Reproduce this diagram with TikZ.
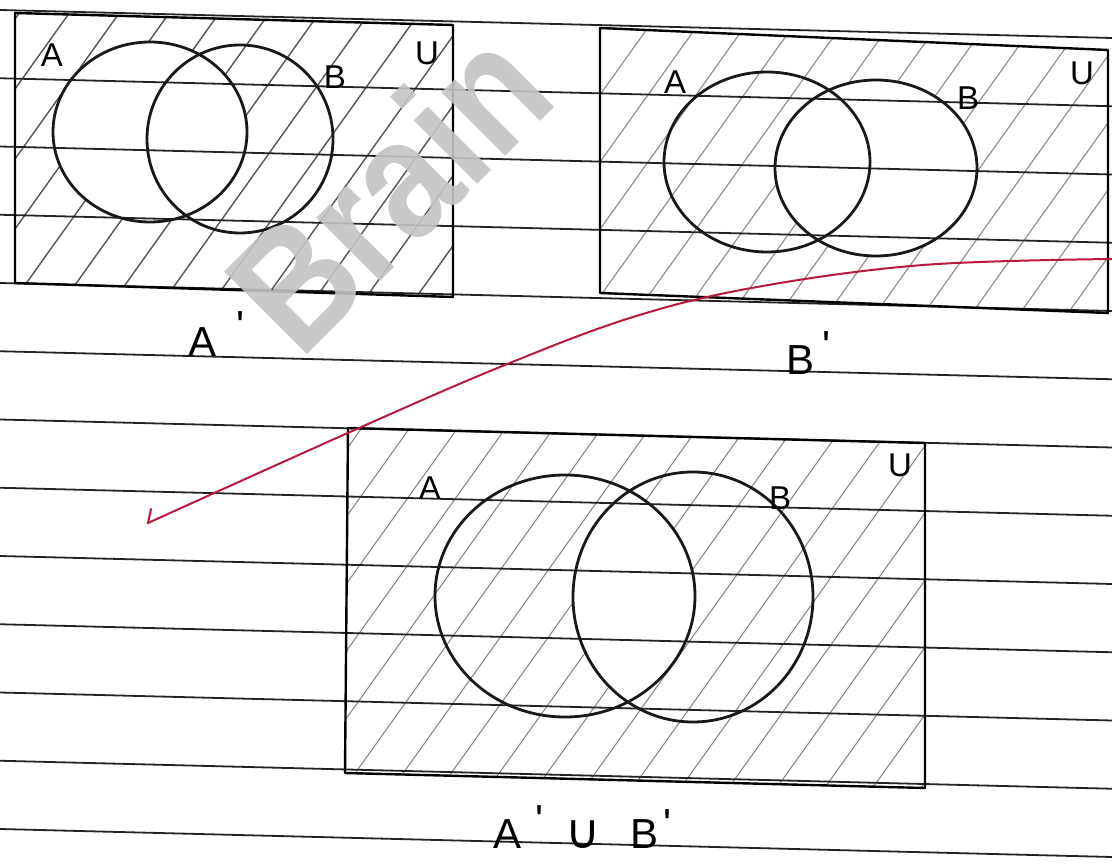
\documentclass[tikz,border=0pt]{standalone}
\usepackage{fontspec}
\setmainfont{Liberation Sans}
\newfontfamily\dejavu{DejaVu Sans}
\definecolor{redink}{RGB}{185,25,60}
\definecolor{hatchdark}{RGB}{95,82,88}
\definecolor{hatchlight}{RGB}{150,132,140}
\definecolor{paperline}{RGB}{35,35,35}
\definecolor{wmgray}{RGB}{196,196,196}
\tikzset{
  hatchone/.style={draw=hatchdark, line width=1.4pt},
  hatchtwo/.style={draw=hatchlight, line width=1.1pt},
  ruled/.style={draw=paperline, line width=1.8pt},
  boxedge/.style={draw=black, line width=2.4pt, line join=round},
  setcurve/.style={draw=black!90, line width=2.8pt},
  lbl/.style={inner sep=0pt, font=\fontsize{33}{36}\selectfont},
  captext/.style={inner sep=0pt, anchor=base west, font=\fontsize{42}{44}\selectfont},
  pen/.style={draw=redink, line width=2pt, line cap=round, line join=round}
}
\newcommand{\prm}[1]{\raisebox{#1}{\textquotesingle}}
\begin{document}
\begin{tikzpicture}[x=1pt,y=-1pt]
\useasboundingbox (0,0) rectangle (1112,866);
\fill[white] (0,0) rectangle (1112,866);

% box corners
\coordinate (p1a) at (15,13);  \coordinate (p1b) at (453,25);
\coordinate (p1c) at (453,297); \coordinate (p1d) at (15,283);
\coordinate (p2a) at (600,28); \coordinate (p2b) at (1108,50);
\coordinate (p2c) at (1108,313); \coordinate (p2d) at (600,293);
\coordinate (p3a) at (348,428); \coordinate (p3b) at (925,443);
\coordinate (p3c) at (925,788); \coordinate (p3d) at (345,773);

% set centres
\coordinate (cA1) at (150,132); \coordinate (cB1) at (240,139);
\coordinate (cA2) at (767,162); \coordinate (cB2) at (876,168);
\coordinate (cA3) at (565,596); \coordinate (cB3) at (693,597);

% ---- hatching, box 1 (A')
\begin{scope}
  \clip (p1a) -- (p1b) -- (p1c) -- (p1d) -- cycle;
  \foreach \i in {-12,...,14} \draw[hatchone] ({\i*50},320) -- ++(250,-350);
  \fill[white] (cA1) ellipse [x radius=97pt, y radius=90pt];
\end{scope}
% ---- hatching, box 2 (B')
\begin{scope}
  \clip (p2a) -- (p2b) -- (p2c) -- (p2d) -- cycle;
  \foreach \i in {-2,...,26} \draw[hatchtwo] ({\i*48},330) -- ++(250,-350);
  \fill[white] (cB2) ellipse [x radius=101pt, y radius=88pt];
\end{scope}
% ---- hatching, box 3 (A' u B')
\begin{scope}
  \clip (p3a) -- (p3b) -- (p3c) -- (p3d) -- cycle;
  \foreach \i in {-2,...,24} \draw[hatchtwo] ({\i*48},800) -- ++(280,-392);
  \begin{scope}
    \clip (cA3) ellipse [x radius=130pt, y radius=121pt];
    \fill[white] (cB3) ellipse [x radius=120pt, y radius=125pt];
  \end{scope}
\end{scope}

% ---- ruled paper lines
\foreach \k in {0,...,12}
  \draw[ruled] (0,{10+68.25*\k}) -- (1112,{10+68.25*\k+28});

% ---- boxes
\draw[boxedge] (p1a) -- (p1b) -- (p1c) -- (p1d) -- cycle;
\draw[boxedge] (p2a) -- (p2b) -- (p2c) -- (p2d) -- cycle;
\draw[boxedge] (p3a) -- (p3b) -- (p3c) -- (p3d) -- cycle;

% ---- sets
\draw[setcurve] (cA1) ellipse [x radius=97pt, y radius=90pt];
\draw[setcurve] (cB1) ellipse [x radius=93pt, y radius=94pt];
\draw[setcurve] (cA2) ellipse [x radius=103pt, y radius=90pt];
\draw[setcurve] (cB2) ellipse [x radius=101pt, y radius=88pt];
\draw[setcurve] (cA3) ellipse [x radius=130pt, y radius=121pt];
\draw[setcurve] (cB3) ellipse [x radius=120pt, y radius=125pt];

% ---- labels
\node[lbl] (lA1) at (52,55) {A};
\node[lbl] (lB1) at (335,77) {B};
\node[lbl] (lU1) at (427,53) {U};
\node[lbl] (lA2) at (675,82) {A};
\node[lbl] (lB2) at (968,98) {B};
\node[lbl] (lU2) at (1082,73) {U};
\node[lbl] (lA3) at (430,488) {A};
\node[lbl] (lB3) at (780,498) {B};
\node[lbl] (lU3) at (900,465) {U};

% ---- captions
\node[captext] (capone) at (188,357) {A\kern20pt\prm{16pt}};
\node[captext] (captwo) at (786,375) {B\kern8pt\prm{14pt}};
\node[captext] (capthree) at (493,848) {A\kern14pt\prm{14pt}\kern22pt{\dejavu\fontsize{48}{50}\selectfont ∪}\kern30pt B\kern5pt\prm{10pt}};

% ---- red pen stroke
\coordinate (r0) at (151,509);
\coordinate (r1) at (148,523);
\coordinate (r7) at (1112,259);
\draw[pen] (r0) -- (r1);
\draw[pen] plot[smooth, tension=0.6] coordinates {(148,523) (350,432) (500,367) (633,317) (757,287) (923,265) (1112,259)};

% ---- watermark
\begin{scope}
  \clip (0,0) rectangle (1112,866);
  \node[rotate=45, anchor=base west, inner sep=0pt, text=wmgray, text opacity=0.9,
        font=\bfseries\fontsize{170}{172}\selectfont] (wmark) at (300,362) {\scalebox{0.85}[1]{Brain}};
\end{scope}
\end{tikzpicture}
\end{document}
